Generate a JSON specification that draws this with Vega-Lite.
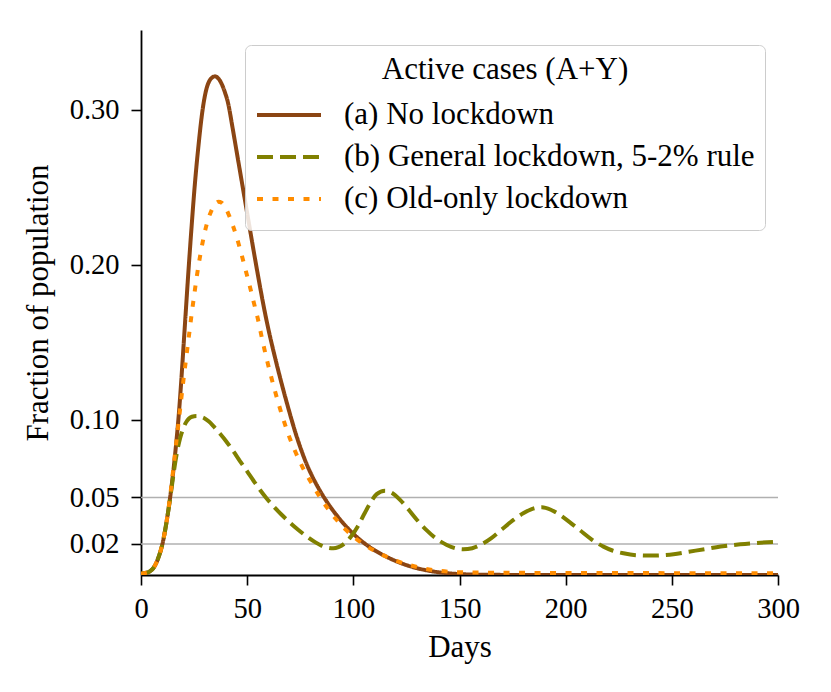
{
  "$schema": "https://vega.github.io/schema/vega-lite/v6.json",
  "width": 637,
  "height": 545,
  "autosize": {"type": "none"},
  "padding": {"left": 141, "top": 30, "right": 53, "bottom": 117},
  "background": "white",
  "config": {
    "font": "Liberation Serif",
    "view": {"stroke": null},
    "axis": {"domainColor": "black", "domainWidth": 1.8, "tickColor": "black", "tickWidth": 1.6, "tickSize": 10, "labelColor": "black", "titleColor": "black", "labelFontSize": 28.5, "titleFontSize": 31, "titleFontWeight": "normal", "grid": false, "labelFont": "Liberation Serif", "titleFont": "Liberation Serif"},
    "legend": {"labelFont": "Liberation Serif", "titleFont": "Liberation Serif"}
  },
  "datasets": {
    "guides": [{"level": 0.02}, {"level": 0.05}],
    "curves": [
      {"series": "(a) No lockdown", "day": 0, "value": 0.0008},
      {"series": "(a) No lockdown", "day": 2, "value": 0.0013},
      {"series": "(a) No lockdown", "day": 4, "value": 0.0022},
      {"series": "(a) No lockdown", "day": 6, "value": 0.0048},
      {"series": "(a) No lockdown", "day": 8, "value": 0.0105},
      {"series": "(a) No lockdown", "day": 10, "value": 0.0195},
      {"series": "(a) No lockdown", "day": 12, "value": 0.034},
      {"series": "(a) No lockdown", "day": 14, "value": 0.053},
      {"series": "(a) No lockdown", "day": 16, "value": 0.077},
      {"series": "(a) No lockdown", "day": 18, "value": 0.107},
      {"series": "(a) No lockdown", "day": 19, "value": 0.126},
      {"series": "(a) No lockdown", "day": 20, "value": 0.147},
      {"series": "(a) No lockdown", "day": 21, "value": 0.168},
      {"series": "(a) No lockdown", "day": 22, "value": 0.189},
      {"series": "(a) No lockdown", "day": 23, "value": 0.209},
      {"series": "(a) No lockdown", "day": 24, "value": 0.228},
      {"series": "(a) No lockdown", "day": 25, "value": 0.246},
      {"series": "(a) No lockdown", "day": 26, "value": 0.262},
      {"series": "(a) No lockdown", "day": 27, "value": 0.276},
      {"series": "(a) No lockdown", "day": 28, "value": 0.289},
      {"series": "(a) No lockdown", "day": 29, "value": 0.3},
      {"series": "(a) No lockdown", "day": 30, "value": 0.3085},
      {"series": "(a) No lockdown", "day": 31, "value": 0.3145},
      {"series": "(a) No lockdown", "day": 32, "value": 0.3182},
      {"series": "(a) No lockdown", "day": 33, "value": 0.3203},
      {"series": "(a) No lockdown", "day": 34.8, "value": 0.3217},
      {"series": "(a) No lockdown", "day": 36.5, "value": 0.3202},
      {"series": "(a) No lockdown", "day": 38, "value": 0.3168},
      {"series": "(a) No lockdown", "day": 39.5, "value": 0.3115},
      {"series": "(a) No lockdown", "day": 41, "value": 0.3045},
      {"series": "(a) No lockdown", "day": 43, "value": 0.2895},
      {"series": "(a) No lockdown", "day": 45, "value": 0.2735},
      {"series": "(a) No lockdown", "day": 47, "value": 0.2575},
      {"series": "(a) No lockdown", "day": 49, "value": 0.2415},
      {"series": "(a) No lockdown", "day": 51, "value": 0.2255},
      {"series": "(a) No lockdown", "day": 53, "value": 0.2095},
      {"series": "(a) No lockdown", "day": 55, "value": 0.194},
      {"series": "(a) No lockdown", "day": 57, "value": 0.179},
      {"series": "(a) No lockdown", "day": 59, "value": 0.165},
      {"series": "(a) No lockdown", "day": 61, "value": 0.1525},
      {"series": "(a) No lockdown", "day": 63, "value": 0.141},
      {"series": "(a) No lockdown", "day": 65, "value": 0.13},
      {"series": "(a) No lockdown", "day": 67, "value": 0.1195},
      {"series": "(a) No lockdown", "day": 69, "value": 0.1095},
      {"series": "(a) No lockdown", "day": 71, "value": 0.0998},
      {"series": "(a) No lockdown", "day": 73, "value": 0.0907},
      {"series": "(a) No lockdown", "day": 75, "value": 0.0825},
      {"series": "(a) No lockdown", "day": 77, "value": 0.075},
      {"series": "(a) No lockdown", "day": 80, "value": 0.0655},
      {"series": "(a) No lockdown", "day": 83, "value": 0.0575},
      {"series": "(a) No lockdown", "day": 86, "value": 0.0505},
      {"series": "(a) No lockdown", "day": 89, "value": 0.0443},
      {"series": "(a) No lockdown", "day": 92, "value": 0.0388},
      {"series": "(a) No lockdown", "day": 95, "value": 0.0338},
      {"series": "(a) No lockdown", "day": 98, "value": 0.0293},
      {"series": "(a) No lockdown", "day": 101, "value": 0.0253},
      {"series": "(a) No lockdown", "day": 105, "value": 0.0207},
      {"series": "(a) No lockdown", "day": 110, "value": 0.016},
      {"series": "(a) No lockdown", "day": 115, "value": 0.0122},
      {"series": "(a) No lockdown", "day": 120, "value": 0.009},
      {"series": "(a) No lockdown", "day": 125, "value": 0.0064},
      {"series": "(a) No lockdown", "day": 130, "value": 0.0044},
      {"series": "(a) No lockdown", "day": 135, "value": 0.0029},
      {"series": "(a) No lockdown", "day": 140, "value": 0.0018},
      {"series": "(a) No lockdown", "day": 145, "value": 0.0011},
      {"series": "(a) No lockdown", "day": 150, "value": 0.0006},
      {"series": "(a) No lockdown", "day": 160, "value": 0.0002},
      {"series": "(a) No lockdown", "day": 175, "value": 0.00005},
      {"series": "(a) No lockdown", "day": 200, "value": 0},
      {"series": "(a) No lockdown", "day": 300, "value": 0},
      {"series": "(b) General lockdown, 5-2% rule", "day": 0, "value": 0.0008},
      {"series": "(b) General lockdown, 5-2% rule", "day": 2, "value": 0.0013},
      {"series": "(b) General lockdown, 5-2% rule", "day": 4, "value": 0.0022},
      {"series": "(b) General lockdown, 5-2% rule", "day": 6, "value": 0.0048},
      {"series": "(b) General lockdown, 5-2% rule", "day": 8, "value": 0.0105},
      {"series": "(b) General lockdown, 5-2% rule", "day": 10, "value": 0.0195},
      {"series": "(b) General lockdown, 5-2% rule", "day": 12, "value": 0.034},
      {"series": "(b) General lockdown, 5-2% rule", "day": 14, "value": 0.052},
      {"series": "(b) General lockdown, 5-2% rule", "day": 15, "value": 0.062},
      {"series": "(b) General lockdown, 5-2% rule", "day": 16, "value": 0.0715},
      {"series": "(b) General lockdown, 5-2% rule", "day": 17, "value": 0.0795},
      {"series": "(b) General lockdown, 5-2% rule", "day": 18, "value": 0.086},
      {"series": "(b) General lockdown, 5-2% rule", "day": 19, "value": 0.091},
      {"series": "(b) General lockdown, 5-2% rule", "day": 20, "value": 0.095},
      {"series": "(b) General lockdown, 5-2% rule", "day": 21, "value": 0.098},
      {"series": "(b) General lockdown, 5-2% rule", "day": 22.5, "value": 0.1008},
      {"series": "(b) General lockdown, 5-2% rule", "day": 24, "value": 0.1021},
      {"series": "(b) General lockdown, 5-2% rule", "day": 26.2, "value": 0.1026},
      {"series": "(b) General lockdown, 5-2% rule", "day": 28, "value": 0.1021},
      {"series": "(b) General lockdown, 5-2% rule", "day": 30, "value": 0.101},
      {"series": "(b) General lockdown, 5-2% rule", "day": 32, "value": 0.099},
      {"series": "(b) General lockdown, 5-2% rule", "day": 34, "value": 0.0962},
      {"series": "(b) General lockdown, 5-2% rule", "day": 37, "value": 0.0915},
      {"series": "(b) General lockdown, 5-2% rule", "day": 40, "value": 0.0865},
      {"series": "(b) General lockdown, 5-2% rule", "day": 43, "value": 0.0808},
      {"series": "(b) General lockdown, 5-2% rule", "day": 46.6, "value": 0.0735},
      {"series": "(b) General lockdown, 5-2% rule", "day": 50, "value": 0.0668},
      {"series": "(b) General lockdown, 5-2% rule", "day": 53, "value": 0.0608},
      {"series": "(b) General lockdown, 5-2% rule", "day": 56, "value": 0.055},
      {"series": "(b) General lockdown, 5-2% rule", "day": 59, "value": 0.0497},
      {"series": "(b) General lockdown, 5-2% rule", "day": 62, "value": 0.0449},
      {"series": "(b) General lockdown, 5-2% rule", "day": 66, "value": 0.0392},
      {"series": "(b) General lockdown, 5-2% rule", "day": 70, "value": 0.034},
      {"series": "(b) General lockdown, 5-2% rule", "day": 74, "value": 0.0292},
      {"series": "(b) General lockdown, 5-2% rule", "day": 78, "value": 0.0249},
      {"series": "(b) General lockdown, 5-2% rule", "day": 82, "value": 0.0212},
      {"series": "(b) General lockdown, 5-2% rule", "day": 85, "value": 0.019},
      {"series": "(b) General lockdown, 5-2% rule", "day": 88, "value": 0.0176},
      {"series": "(b) General lockdown, 5-2% rule", "day": 90.6, "value": 0.0172},
      {"series": "(b) General lockdown, 5-2% rule", "day": 93, "value": 0.018},
      {"series": "(b) General lockdown, 5-2% rule", "day": 96, "value": 0.0205},
      {"series": "(b) General lockdown, 5-2% rule", "day": 99, "value": 0.025},
      {"series": "(b) General lockdown, 5-2% rule", "day": 102, "value": 0.0312},
      {"series": "(b) General lockdown, 5-2% rule", "day": 105, "value": 0.039},
      {"series": "(b) General lockdown, 5-2% rule", "day": 108, "value": 0.0465},
      {"series": "(b) General lockdown, 5-2% rule", "day": 111, "value": 0.0522},
      {"series": "(b) General lockdown, 5-2% rule", "day": 114.9, "value": 0.0544},
      {"series": "(b) General lockdown, 5-2% rule", "day": 118, "value": 0.0532},
      {"series": "(b) General lockdown, 5-2% rule", "day": 122, "value": 0.0485},
      {"series": "(b) General lockdown, 5-2% rule", "day": 126, "value": 0.0422},
      {"series": "(b) General lockdown, 5-2% rule", "day": 130, "value": 0.0355},
      {"series": "(b) General lockdown, 5-2% rule", "day": 134.6, "value": 0.0288},
      {"series": "(b) General lockdown, 5-2% rule", "day": 139, "value": 0.0235},
      {"series": "(b) General lockdown, 5-2% rule", "day": 144, "value": 0.0194},
      {"series": "(b) General lockdown, 5-2% rule", "day": 148, "value": 0.0173},
      {"series": "(b) General lockdown, 5-2% rule", "day": 151.8, "value": 0.0166},
      {"series": "(b) General lockdown, 5-2% rule", "day": 156, "value": 0.0173},
      {"series": "(b) General lockdown, 5-2% rule", "day": 160, "value": 0.0195},
      {"series": "(b) General lockdown, 5-2% rule", "day": 165, "value": 0.0238},
      {"series": "(b) General lockdown, 5-2% rule", "day": 170, "value": 0.0295},
      {"series": "(b) General lockdown, 5-2% rule", "day": 175.4, "value": 0.0355},
      {"series": "(b) General lockdown, 5-2% rule", "day": 180, "value": 0.0398},
      {"series": "(b) General lockdown, 5-2% rule", "day": 184, "value": 0.0425},
      {"series": "(b) General lockdown, 5-2% rule", "day": 188.8, "value": 0.0437},
      {"series": "(b) General lockdown, 5-2% rule", "day": 193, "value": 0.0421},
      {"series": "(b) General lockdown, 5-2% rule", "day": 197.4, "value": 0.0387},
      {"series": "(b) General lockdown, 5-2% rule", "day": 202, "value": 0.034},
      {"series": "(b) General lockdown, 5-2% rule", "day": 206.8, "value": 0.0288},
      {"series": "(b) General lockdown, 5-2% rule", "day": 212, "value": 0.0232},
      {"series": "(b) General lockdown, 5-2% rule", "day": 217.8, "value": 0.0183},
      {"series": "(b) General lockdown, 5-2% rule", "day": 222, "value": 0.0158},
      {"series": "(b) General lockdown, 5-2% rule", "day": 227.2, "value": 0.014},
      {"series": "(b) General lockdown, 5-2% rule", "day": 233, "value": 0.0128},
      {"series": "(b) General lockdown, 5-2% rule", "day": 239.8, "value": 0.0125},
      {"series": "(b) General lockdown, 5-2% rule", "day": 245, "value": 0.0127},
      {"series": "(b) General lockdown, 5-2% rule", "day": 250.8, "value": 0.0134},
      {"series": "(b) General lockdown, 5-2% rule", "day": 258, "value": 0.015},
      {"series": "(b) General lockdown, 5-2% rule", "day": 266.5, "value": 0.0169},
      {"series": "(b) General lockdown, 5-2% rule", "day": 274, "value": 0.0185},
      {"series": "(b) General lockdown, 5-2% rule", "day": 282.2, "value": 0.0198},
      {"series": "(b) General lockdown, 5-2% rule", "day": 290, "value": 0.0207},
      {"series": "(b) General lockdown, 5-2% rule", "day": 300, "value": 0.0215},
      {"series": "(c) Old-only lockdown", "day": 0, "value": 0.0008},
      {"series": "(c) Old-only lockdown", "day": 2, "value": 0.0013},
      {"series": "(c) Old-only lockdown", "day": 4, "value": 0.0022},
      {"series": "(c) Old-only lockdown", "day": 6, "value": 0.0048},
      {"series": "(c) Old-only lockdown", "day": 8, "value": 0.0105},
      {"series": "(c) Old-only lockdown", "day": 10, "value": 0.0195},
      {"series": "(c) Old-only lockdown", "day": 12, "value": 0.034},
      {"series": "(c) Old-only lockdown", "day": 14, "value": 0.054},
      {"series": "(c) Old-only lockdown", "day": 15, "value": 0.066},
      {"series": "(c) Old-only lockdown", "day": 16, "value": 0.078},
      {"series": "(c) Old-only lockdown", "day": 17, "value": 0.09},
      {"series": "(c) Old-only lockdown", "day": 18, "value": 0.102},
      {"series": "(c) Old-only lockdown", "day": 19, "value": 0.114},
      {"series": "(c) Old-only lockdown", "day": 20, "value": 0.126},
      {"series": "(c) Old-only lockdown", "day": 21, "value": 0.137},
      {"series": "(c) Old-only lockdown", "day": 22, "value": 0.148},
      {"series": "(c) Old-only lockdown", "day": 23, "value": 0.159},
      {"series": "(c) Old-only lockdown", "day": 24, "value": 0.17},
      {"series": "(c) Old-only lockdown", "day": 25, "value": 0.18},
      {"series": "(c) Old-only lockdown", "day": 26, "value": 0.19},
      {"series": "(c) Old-only lockdown", "day": 27, "value": 0.199},
      {"series": "(c) Old-only lockdown", "day": 28, "value": 0.207},
      {"series": "(c) Old-only lockdown", "day": 29, "value": 0.2145},
      {"series": "(c) Old-only lockdown", "day": 30, "value": 0.221},
      {"series": "(c) Old-only lockdown", "day": 31, "value": 0.2265},
      {"series": "(c) Old-only lockdown", "day": 32, "value": 0.231},
      {"series": "(c) Old-only lockdown", "day": 33, "value": 0.2345},
      {"series": "(c) Old-only lockdown", "day": 34, "value": 0.2375},
      {"series": "(c) Old-only lockdown", "day": 35, "value": 0.2395},
      {"series": "(c) Old-only lockdown", "day": 36.5, "value": 0.2408},
      {"series": "(c) Old-only lockdown", "day": 38, "value": 0.2402},
      {"series": "(c) Old-only lockdown", "day": 39.5, "value": 0.2375},
      {"series": "(c) Old-only lockdown", "day": 41, "value": 0.2335},
      {"series": "(c) Old-only lockdown", "day": 43.5, "value": 0.2245},
      {"series": "(c) Old-only lockdown", "day": 45.8, "value": 0.2145},
      {"series": "(c) Old-only lockdown", "day": 47.7, "value": 0.205},
      {"series": "(c) Old-only lockdown", "day": 49.5, "value": 0.1955},
      {"series": "(c) Old-only lockdown", "day": 51.3, "value": 0.186},
      {"series": "(c) Old-only lockdown", "day": 53, "value": 0.1765},
      {"series": "(c) Old-only lockdown", "day": 55, "value": 0.1655},
      {"series": "(c) Old-only lockdown", "day": 57, "value": 0.1525},
      {"series": "(c) Old-only lockdown", "day": 59, "value": 0.1405},
      {"series": "(c) Old-only lockdown", "day": 61, "value": 0.1295},
      {"series": "(c) Old-only lockdown", "day": 63, "value": 0.1192},
      {"series": "(c) Old-only lockdown", "day": 65, "value": 0.1095},
      {"series": "(c) Old-only lockdown", "day": 67, "value": 0.1005},
      {"series": "(c) Old-only lockdown", "day": 70, "value": 0.0885},
      {"series": "(c) Old-only lockdown", "day": 73, "value": 0.0785},
      {"series": "(c) Old-only lockdown", "day": 76, "value": 0.0698},
      {"series": "(c) Old-only lockdown", "day": 80, "value": 0.06},
      {"series": "(c) Old-only lockdown", "day": 84, "value": 0.0508},
      {"series": "(c) Old-only lockdown", "day": 88, "value": 0.0428},
      {"series": "(c) Old-only lockdown", "day": 92, "value": 0.0358},
      {"series": "(c) Old-only lockdown", "day": 96, "value": 0.0298},
      {"series": "(c) Old-only lockdown", "day": 101, "value": 0.0237},
      {"series": "(c) Old-only lockdown", "day": 106, "value": 0.0188},
      {"series": "(c) Old-only lockdown", "day": 110, "value": 0.0156},
      {"series": "(c) Old-only lockdown", "day": 114, "value": 0.0128},
      {"series": "(c) Old-only lockdown", "day": 118, "value": 0.0104},
      {"series": "(c) Old-only lockdown", "day": 121, "value": 0.0088},
      {"series": "(c) Old-only lockdown", "day": 127, "value": 0.0062},
      {"series": "(c) Old-only lockdown", "day": 134, "value": 0.004},
      {"series": "(c) Old-only lockdown", "day": 141, "value": 0.0026},
      {"series": "(c) Old-only lockdown", "day": 150, "value": 0.0018},
      {"series": "(c) Old-only lockdown", "day": 165, "value": 0.0015},
      {"series": "(c) Old-only lockdown", "day": 200, "value": 0.0013},
      {"series": "(c) Old-only lockdown", "day": 250, "value": 0.0012},
      {"series": "(c) Old-only lockdown", "day": 300, "value": 0.0011}
    ]
  },
  "layer": [
    {
      "data": {"name": "guides"},
      "mark": {"type": "rule", "color": "#b0b0b0", "strokeWidth": 1.5},
      "encoding": {
        "y": {"field": "level", "type": "quantitative", "scale": {"domain": [0, 0.3516], "nice": false, "zero": false}}
      }
    },
    {
      "data": {"name": "curves"},
      "mark": {"type": "line", "interpolate": "monotone", "clip": true},
      "encoding": {
        "x": {"field": "day", "type": "quantitative", "title": "Days",
              "scale": {"domain": [0, 300], "nice": false},
              "axis": {"values": [0, 50, 100, 150, 200, 250, 300], "labelPadding": 9, "titlePadding": 10, "labelFlush": false}},
        "y": {"field": "value", "type": "quantitative", "title": "Fraction of population",
              "scale": {"domain": [0, 0.3516], "nice": false, "zero": false},
              "axis": {"values": [0.02, 0.05, 0.1, 0.2, 0.3], "format": ".2f", "labelPadding": 12, "titlePadding": 15, "labelFlush": false}},
        "color": {"field": "series", "type": "nominal",
                  "scale": {"domain": ["(a) No lockdown", "(b) General lockdown, 5-2% rule", "(c) Old-only lockdown"], "range": ["#8B4513", "#808000", "#FF8C00"]},
                  "legend": {"title": "Active cases (A+Y)", "orient": "none", "legendX": 104, "legendY": 15,
                             "titleFontSize": 31, "titleFontWeight": "normal", "titleColor": "black", "titleAnchor": "middle", "titlePadding": 8, "titleLimit": 0,
                             "labelFontSize": 31, "labelColor": "black", "labelOffset": 21, "labelLimit": 0,
                             "symbolType": "stroke", "symbolSize": 4096, "rowPadding": 0, "clipHeight": 42,
                             "padding": 10, "fillColor": "rgba(255,255,255,0.85)", "strokeColor": "#cccccc", "cornerRadius": 6}},
        "strokeDash": {"field": "series", "type": "nominal",
                       "scale": {"domain": ["(a) No lockdown", "(b) General lockdown, 5-2% rule", "(c) Old-only lockdown"], "range": [[1, 0], [16, 7], [6, 9.5]]},
                       "legend": {"title": "Active cases (A+Y)"}},
        "strokeWidth": {"field": "series", "type": "nominal",
                        "scale": {"domain": ["(a) No lockdown", "(b) General lockdown, 5-2% rule", "(c) Old-only lockdown"], "range": [4, 4, 6]},
                        "legend": {"title": "Active cases (A+Y)"}}
      }
    }
  ]
}
